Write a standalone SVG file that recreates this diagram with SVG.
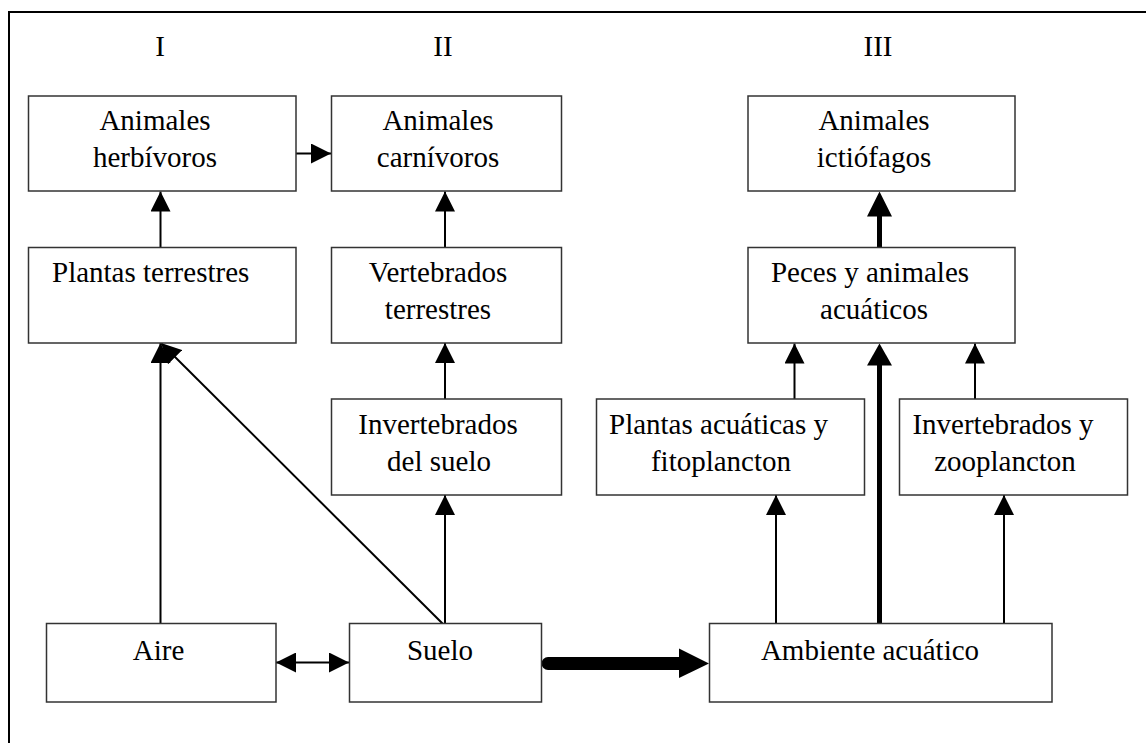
<svg xmlns="http://www.w3.org/2000/svg" width="1146" height="743" viewBox="0 0 1146 743">
<style>
.box{fill:#fff;stroke:#333;stroke-width:1.5}
.t{font-family:"Liberation Serif","Times New Roman",serif;font-size:29px;fill:#000}
.m{text-anchor:middle}
.ln{stroke:#000;stroke-width:2;fill:none}
.thick{stroke:#000;stroke-width:5;fill:none}
.head{fill:#000}
</style>
<defs>
<marker id="ah" viewBox="0 0 20 20" refX="20" refY="10" markerWidth="20" markerHeight="20" markerUnits="userSpaceOnUse" orient="auto-start-reverse">
<path d="M0,0 L20,10 L0,20 z" fill="#000"/>
</marker>
</defs>
<rect x="9" y="12" width="1200" height="800" fill="#fff" stroke="#000" stroke-width="2"/>
<g id="labels">
<text class="t m" x="160" y="56">I</text>
<text class="t m" x="443" y="56">II</text>
<text class="t m" x="878" y="56">III</text>
</g>
<g id="connectors">
<line class="ln" x1="294" y1="153.5" x2="331" y2="153.5" marker-end="url(#ah)"/>
<line class="ln" x1="160.5" y1="247" x2="160.5" y2="191.5" marker-end="url(#ah)"/>
<line class="ln" x1="445" y1="247" x2="445" y2="191.5" marker-end="url(#ah)"/>
<line class="ln" x1="160.5" y1="623" x2="160.5" y2="343" marker-end="url(#ah)"/>
<line class="ln" x1="445" y1="626" x2="161" y2="343" marker-end="url(#ah)"/>
<line class="ln" x1="445" y1="626" x2="445" y2="495" marker-end="url(#ah)"/>
<line class="ln" x1="445" y1="399" x2="445" y2="343" marker-end="url(#ah)"/>
<line class="ln" x1="276" y1="662.5" x2="349" y2="662.5" marker-start="url(#ah)" marker-end="url(#ah)"/>
<line x1="548" y1="663.5" x2="681" y2="663.5" stroke="#000" stroke-width="13" stroke-linecap="round"/>
<polygon class="head" points="679,648.5 709,663.5 679,678"/>
<line class="thick" x1="879.5" y1="627" x2="879.5" y2="363"/>
<polygon class="head" points="867,365.5 879.5,343.5 892,365.5"/>
<line class="thick" x1="879.5" y1="247" x2="879.5" y2="214"/>
<polygon class="head" points="867,216.5 879.5,191.5 892,216.5"/>
<line class="ln" x1="794.5" y1="399" x2="794.5" y2="343.5" marker-end="url(#ah)"/>
<line class="ln" x1="975" y1="399" x2="975" y2="343.5" marker-end="url(#ah)"/>
<line class="ln" x1="776" y1="624" x2="776" y2="495" marker-end="url(#ah)"/>
<line class="ln" x1="1004" y1="624" x2="1004" y2="495" marker-end="url(#ah)"/>
</g>
<g id="herbivoros">
<rect class="box" x="28.5" y="96" width="267.5" height="95"/>
<text class="t m" x="155" y="130">Animales</text>
<text class="t m" x="155" y="167">herbívoros</text>
</g>
<g id="carnivoros">
<rect class="box" x="331.5" y="96" width="230" height="95"/>
<text class="t m" x="438" y="130">Animales</text>
<text class="t m" x="438" y="167">carnívoros</text>
</g>
<g id="ictiofagos">
<rect class="box" x="748" y="96" width="267" height="95"/>
<text class="t m" x="874" y="130">Animales</text>
<text class="t m" x="874" y="167">ictiófagos</text>
</g>
<g id="plantas-terrestres">
<rect class="box" x="28.5" y="247.5" width="267.5" height="95.5"/>
<text class="t" x="52" y="282">Plantas terrestres</text>
</g>
<g id="vertebrados">
<rect class="box" x="331.5" y="247.5" width="230" height="95.5"/>
<text class="t m" x="438" y="282">Vertebrados</text>
<text class="t m" x="438" y="318.5">terrestres</text>
</g>
<g id="peces">
<rect class="box" x="748" y="247.5" width="267" height="95.5"/>
<text class="t m" x="870" y="282">Peces y animales</text>
<text class="t m" x="874" y="318.5">acuáticos</text>
</g>
<g id="invertebrados-suelo">
<rect class="box" x="331.5" y="399" width="230" height="96"/>
<text class="t m" x="438" y="434">Invertebrados</text>
<text class="t m" x="439" y="471">del suelo</text>
</g>
<g id="plantas-acuaticas">
<rect class="box" x="596.5" y="399" width="268" height="96"/>
<text class="t" x="609" y="434">Plantas acuáticas y</text>
<text class="t m" x="721" y="471">fitoplancton</text>
</g>
<g id="invertebrados-zooplancton">
<rect class="box" x="899.5" y="399" width="228" height="96"/>
<text class="t m" x="1003" y="434">Invertebrados y</text>
<text class="t m" x="1005" y="471">zooplancton</text>
</g>
<g id="aire">
<rect class="box" x="46.5" y="623.5" width="229.5" height="78.5"/>
<text class="t m" x="158.5" y="660">Aire</text>
</g>
<g id="suelo">
<rect class="box" x="349.5" y="623.5" width="192" height="78.5"/>
<text class="t m" x="440" y="660">Suelo</text>
</g>
<g id="ambiente-acuatico">
<rect class="box" x="709.5" y="623.5" width="342.5" height="78.5"/>
<text class="t m" x="870" y="660">Ambiente acuático</text>
</g>
</svg>
